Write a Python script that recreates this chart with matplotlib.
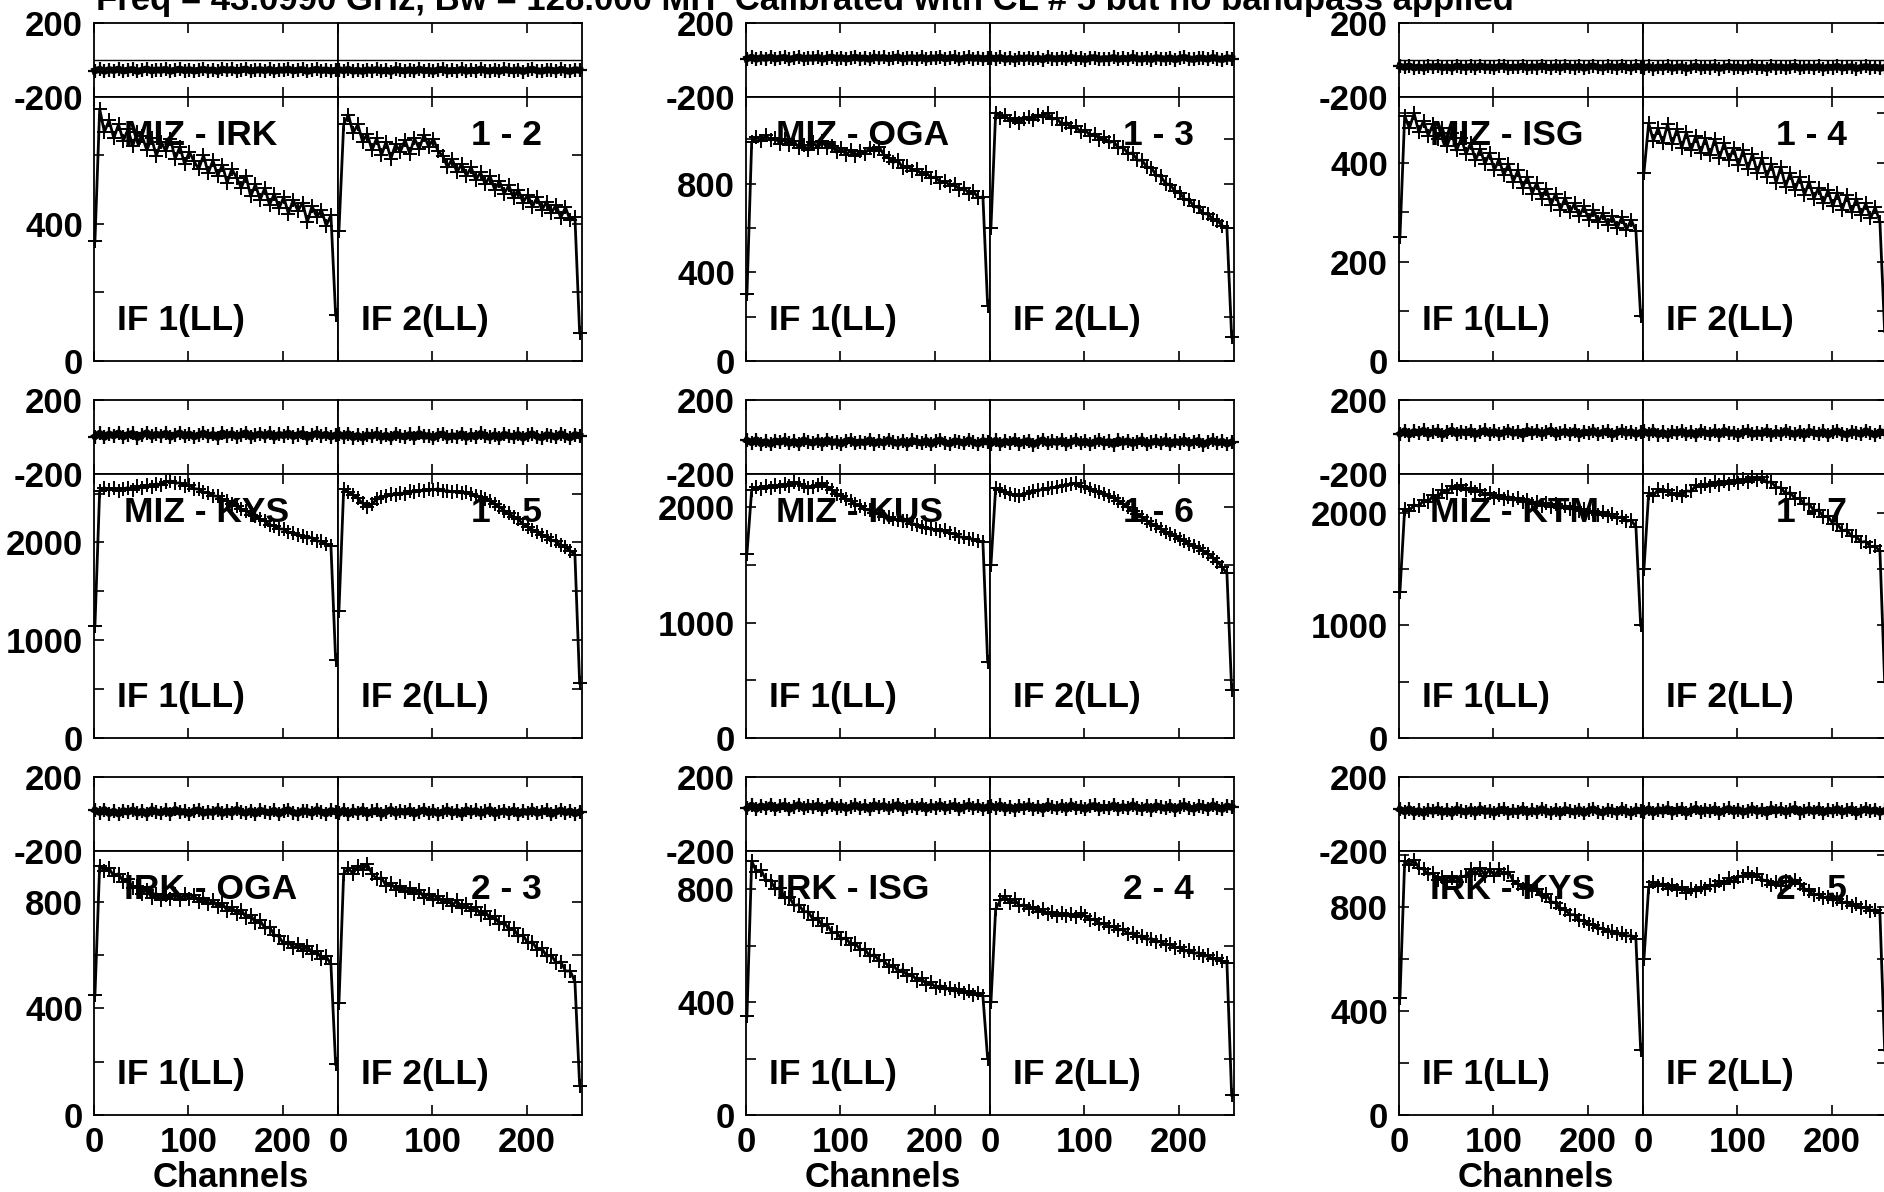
import matplotlib
matplotlib.use("Agg")
import matplotlib.pyplot as plt
from matplotlib.ticker import MultipleLocator

plt.rcParams['font.family'] = ['Liberation Sans', 'DejaVu Sans']
plt.rcParams['font.weight'] = 'bold'
plt.rcParams['axes.unicode_minus'] = False

W, H = 1884, 1192

title = "Freq = 43.0990 GHz, Bw = 128.000 MH  Calibrated with CL # 5 but no bandpass applied"

# every 5th channel of the 256-channel spectra
chan = list(range(1, 257, 5))

baselines = ["MIZ - IRK", "MIZ - OGA", "MIZ - ISG",
             "MIZ - KYS", "MIZ - KUS", "MIZ - KTM",
             "IRK - OGA", "IRK - ISG", "IRK - KYS"]
pairs = ["1 - 2", "1 - 3", "1 - 4", "1 - 5", "1 - 6", "1 - 7", "2 - 3", "2 - 4", "2 - 5"]
amp_top = [770, 1190, 533, 2700, 2290, 2345, 990, 935, 1015]
amp_major = [400, 400, 200, 1000, 1000, 1000, 400, 400, 400]
zero_line = ["MIZ - IRK", "MIZ - ISG"]

# amplitudes (IF1, IF2) per baseline
amp_miz_irk_1 = [350,735,668,702,650,690,642,676,628,668,
                 655,615,650,598,640,612,648,590,625,575,
                 610,582,560,600,548,585,540,572,520,560,
                 535,505,540,480,515,470,505,455,488,445,
                 478,430,470,438,462,405,452,420,440,395,
                 425,134]
amp_miz_irk_2 = [380,690,718,665,690,640,662,615,650,600,
                 640,590,632,610,645,605,650,618,660,625,
                 648,612,598,565,590,550,575,540,565,528,
                 550,515,540,500,525,488,512,475,500,462,
                 485,450,478,440,465,432,455,418,448,410,
                 420,82]
amp_miz_oga_1 = [300,985,1010,990,1018,995,1005,980,1000,975,
                 990,960,972,950,985,962,990,958,970,940,
                 958,930,950,925,948,935,962,945,965,930,
                 915,895,905,870,880,858,865,840,850,825,
                 830,802,812,790,800,770,782,755,765,735,
                 740,250]
amp_miz_oga_2 = [600,1120,1095,1110,1080,1095,1075,1090,1100,1085,
                 1110,1098,1118,1090,1095,1065,1075,1050,1058,1030,
                 1042,1015,1025,998,1008,985,990,960,965,935,
                 938,905,905,875,870,838,832,800,795,765,
                 758,730,725,698,692,665,662,640,632,610,
                 598,108]
amp_miz_isg_1 = [250,495,470,500,462,485,455,478,448,470,
                 435,460,425,450,418,440,405,428,398,420,
                 385,408,375,398,362,385,350,372,338,360,
                 328,348,315,338,305,330,300,318,292,312,
                 285,305,280,298,275,292,268,290,265,285,
                 262,90]
amp_miz_isg_2 = [380,480,445,470,440,478,438,468,430,462,
                 425,455,420,450,415,448,410,440,405,430,
                 395,425,388,418,380,410,372,398,360,392,
                 352,380,345,372,335,362,328,350,318,345,
                 312,340,305,335,300,328,295,318,288,310,
                 280,60]
amp_miz_kys_1 = [1150,2530,2560,2535,2555,2530,2548,2560,2540,2575,
                 2560,2585,2570,2600,2585,2615,2630,2605,2610,2580,
                 2585,2550,2545,2515,2510,2480,2470,2440,2425,2390,
                 2370,2340,2325,2285,2270,2235,2220,2180,2170,2140,
                 2135,2105,2100,2075,2070,2045,2050,2015,2010,1985,
                 1965,800]
amp_miz_kys_2 = [1300,2545,2515,2490,2450,2400,2360,2395,2440,2460,
                 2470,2495,2485,2505,2500,2525,2515,2535,2525,2545,
                 2535,2550,2525,2530,2515,2525,2505,2515,2495,2480,
                 2465,2440,2425,2390,2365,2325,2300,2260,2235,2190,
                 2160,2130,2110,2080,2060,2025,2010,1975,1950,1915,
                 1875,560]
amp_miz_kus_1 = [1600,2150,2175,2160,2185,2170,2195,2180,2205,2190,
                 2220,2200,2190,2170,2175,2195,2210,2180,2150,2120,
                 2100,2075,2060,2030,2015,1985,1975,1950,1940,1920,
                 1915,1900,1895,1880,1885,1860,1850,1830,1825,1810,
                 1810,1795,1800,1775,1770,1745,1740,1730,1725,1710,
                 1700,660]
amp_miz_kus_2 = [1500,2170,2150,2135,2120,2110,2100,2115,2125,2140,
                 2150,2155,2165,2170,2175,2185,2195,2205,2210,2190,
                 2175,2160,2145,2130,2115,2100,2085,2060,2030,2000,
                 1970,1945,1915,1885,1860,1835,1815,1790,1770,1750,
                 1730,1710,1685,1665,1645,1620,1600,1565,1530,1480,
                 1430,420]
amp_miz_ktm_1 = [1300,2035,2020,2070,2060,2110,2095,2155,2130,2200,
                 2180,2235,2215,2245,2200,2225,2185,2200,2155,2175,
                 2135,2155,2120,2145,2110,2130,2095,2115,2080,2100,
                 2065,2090,2055,2075,2040,2065,2030,2050,2015,2035,
                 2000,2020,1985,2010,1970,1990,1950,1965,1925,1935,
                 1875,1000]
amp_miz_ktm_2 = [1500,2175,2150,2210,2185,2200,2160,2175,2150,2195,
                 2190,2245,2230,2260,2235,2270,2245,2280,2255,2290,
                 2265,2300,2275,2315,2290,2320,2270,2275,2225,2225,
                 2170,2180,2125,2130,2075,2080,2020,2025,1965,1970,
                 1905,1900,1840,1850,1790,1790,1740,1745,1700,1705,
                 1660,500]
amp_irk_oga_1 = [450,935,915,925,895,905,875,885,850,860,
                 830,845,815,830,805,825,810,830,805,828,
                 810,825,800,815,790,805,780,795,765,780,
                 755,770,740,750,720,730,700,705,675,670,
                 640,650,625,640,615,635,605,615,585,595,
                 565,190]
amp_irk_oga_2 = [420,905,925,905,935,920,940,905,885,890,
                 860,870,845,860,835,850,830,845,815,830,
                 805,820,795,810,785,805,775,790,765,780,
                 750,765,735,745,715,725,695,700,670,675,
                 645,650,620,625,595,600,570,575,540,540,
                 500,110]
amp_irk_isg_1 = [350,900,862,868,832,830,800,805,768,772,
                 742,745,720,720,692,698,668,675,645,648,
                 622,628,602,608,585,588,562,568,545,548,
                 525,532,508,515,492,498,475,485,462,470,
                 450,458,445,450,438,445,432,438,425,432,
                 420,200]
amp_irk_isg_2 = [400,730,760,775,750,765,740,745,730,735,
                 720,728,712,720,705,715,705,712,700,715,
                 705,690,695,675,680,665,668,655,658,642,
                 645,632,635,622,625,612,615,602,605,592,
                 595,580,585,572,575,562,565,552,555,545,
                 540,70]
amp_irk_kys_1 = [450,975,960,980,950,945,925,930,905,915,
                 895,910,895,915,920,945,925,950,920,945,
                 920,945,925,935,900,890,870,885,860,870,
                 845,850,820,815,795,790,770,770,750,745,
                 735,730,720,715,705,708,695,700,688,690,
                 675,250]
amp_irk_kys_2 = [600,875,895,880,890,870,885,865,875,855,
                 870,860,875,870,885,880,900,890,910,895,
                 915,920,930,915,925,905,900,885,895,880,
                 900,895,905,890,870,860,845,850,835,840,
                 825,830,815,820,805,810,795,800,785,790,
                 775,250]

# phases in degrees (IF1, IF2)
ph_miz_irk_1 = [-58,-50,-61,-52,-57,-49,-60,-54,-51,-62,-55,-48,-59,-53,-56,-50,-61,-54,-49,-58,
                -52,-60,-55,-50,-57,-53,-62,-49,-56,-51,-59,-54,-48,-60,-55,-52,-58,-50,-61,-53,
                -56,-49,-59,-54,-51,-62,-55,-50,-57,-53,-60,-55]
ph_miz_irk_2 = [-52,-58,-50,-61,-55,-62,-53,-57,-51,-60,-54,-63,-50,-56,-59,-52,-61,-49,-58,-55,
                -62,-53,-51,-60,-56,-58,-50,-61,-54,-59,-49,-57,-60,-53,-62,-51,-56,-59,-52,-63,
                -54,-50,-58,-61,-53,-55,-60,-50,-57,-62,-52,-56]
ph_miz_oga_1 = [7,15,4,13,8,16,5,11,14,3,10,17,6,12,9,15,4,11,16,7,
                13,5,10,15,8,12,3,16,9,14,6,11,17,5,10,13,7,15,4,12,
                9,16,6,11,14,3,10,15,8,12,5,10]
ph_miz_oga_2 = [12,6,14,3,9,2,11,7,13,4,10,1,14,8,5,12,3,15,6,9,
                2,11,13,4,8,6,14,3,10,5,15,7,4,11,2,13,8,5,12,1,
                10,14,6,3,11,9,4,14,7,2,12,8]
ph_miz_isg_1 = [-34,-40,-32,-43,-37,-44,-35,-39,-33,-42,-36,-45,-32,-38,-41,-34,-43,-31,-40,-37,
                -44,-35,-33,-42,-38,-40,-32,-43,-36,-41,-31,-39,-42,-35,-44,-33,-38,-41,-34,-45,
                -36,-32,-40,-43,-35,-37,-42,-32,-39,-44,-34,-38]
ph_miz_isg_2 = [-43,-35,-46,-37,-42,-34,-45,-39,-36,-47,-40,-33,-44,-38,-41,-35,-46,-39,-34,-43,
                -37,-45,-40,-35,-42,-38,-47,-34,-41,-36,-44,-39,-33,-45,-40,-37,-43,-35,-46,-38,
                -41,-34,-44,-39,-36,-47,-40,-35,-42,-38,-45,-40]
ph_miz_kys_1 = [2,20,-2,16,6,22,0,13,19,-3,11,23,3,15,8,20,-1,12,22,4,
                16,1,10,21,5,14,-3,22,8,18,2,13,23,0,9,17,4,20,-2,14,
                7,21,2,12,19,-3,10,20,6,15,0,11]
ph_miz_kys_2 = [15,2,18,-4,9,-6,12,4,16,-2,10,-7,17,6,0,14,-4,19,3,8,
                -5,12,16,-2,7,2,18,-3,10,0,19,4,-2,12,-6,15,6,0,14,-7,
                10,17,2,-4,12,8,-2,18,4,-5,13,6]
ph_miz_kus_1 = [-18,-31,-15,-37,-24,-39,-21,-29,-17,-35,-23,-40,-16,-27,-33,-19,-37,-14,-30,-25,
                -38,-21,-17,-35,-26,-31,-15,-36,-23,-33,-14,-29,-35,-21,-39,-18,-27,-33,-19,-40,
                -23,-16,-31,-37,-21,-25,-35,-15,-29,-38,-20,-27]
ph_miz_kus_2 = [-36,-18,-40,-22,-32,-16,-38,-25,-19,-41,-27,-15,-35,-23,-30,-18,-39,-26,-16,-34,
                -22,-37,-28,-17,-33,-24,-41,-16,-30,-20,-36,-25,-15,-38,-29,-21,-34,-18,-40,-24,
                -31,-17,-36,-26,-19,-41,-28,-18,-32,-23,-38,-27]
ph_miz_ktm_1 = [16,34,12,30,20,36,14,27,33,11,25,37,17,29,22,34,13,26,36,18,
                30,15,24,35,19,28,11,36,22,32,16,27,37,14,23,31,18,34,12,28,
                21,35,16,26,33,11,24,34,20,29,14,25]
ph_miz_ktm_2 = [31,18,34,12,25,10,28,20,32,14,26,9,33,22,16,30,12,35,19,24,
                11,28,32,14,23,18,34,13,26,16,35,20,14,28,10,31,22,16,30,9,
                26,33,18,12,28,24,14,34,20,11,29,22]
ph_irk_oga_1 = [21,8,24,2,15,0,18,10,22,4,16,-1,23,12,6,20,2,25,9,14,
                1,18,22,4,13,8,24,3,16,6,25,10,4,18,0,21,12,6,20,-1,
                16,23,8,2,18,14,4,24,10,1,19,12]
ph_irk_oga_2 = [3,21,-1,17,7,23,1,14,20,-2,12,24,4,16,9,21,0,13,23,5,
                17,2,11,22,6,15,-2,23,9,19,3,14,24,1,10,18,5,21,-1,15,
                8,22,3,13,20,-2,11,21,7,16,1,12]
ph_irk_isg_1 = [30,48,26,44,34,50,28,41,47,25,39,51,31,43,36,48,27,40,50,32,
                44,29,38,49,33,42,25,50,36,46,30,41,51,28,37,45,32,48,26,42,
                35,49,30,40,47,25,38,48,34,43,28,39]
ph_irk_isg_2 = [45,32,48,26,39,24,42,34,46,28,40,23,47,36,30,44,26,49,33,38,
                25,42,46,28,37,32,48,27,40,30,49,34,28,42,24,45,36,30,44,23,
                40,47,32,26,42,38,28,48,34,25,43,36]
ph_irk_kys_1 = [25,12,28,6,19,4,22,14,26,8,20,3,27,16,10,24,6,29,13,18,
                5,22,26,8,17,12,28,7,20,10,29,14,8,22,4,25,16,10,24,3,
                20,27,12,6,22,18,8,28,14,5,23,16]
ph_irk_kys_2 = [10,28,6,24,14,30,8,21,27,5,19,31,11,23,16,28,7,20,30,12,
                24,9,18,29,13,22,5,30,16,26,10,21,31,8,17,25,12,28,6,22,
                15,29,10,20,27,5,18,28,14,23,8,19]

amps = [(amp_miz_irk_1, amp_miz_irk_2), (amp_miz_oga_1, amp_miz_oga_2), (amp_miz_isg_1, amp_miz_isg_2),
        (amp_miz_kys_1, amp_miz_kys_2), (amp_miz_kus_1, amp_miz_kus_2), (amp_miz_ktm_1, amp_miz_ktm_2),
        (amp_irk_oga_1, amp_irk_oga_2), (amp_irk_isg_1, amp_irk_isg_2), (amp_irk_kys_1, amp_irk_kys_2)]
phases = [(ph_miz_irk_1, ph_miz_irk_2), (ph_miz_oga_1, ph_miz_oga_2), (ph_miz_isg_1, ph_miz_isg_2),
          (ph_miz_kys_1, ph_miz_kys_2), (ph_miz_kus_1, ph_miz_kus_2), (ph_miz_ktm_1, ph_miz_ktm_2),
          (ph_irk_oga_1, ph_irk_oga_2), (ph_irk_isg_1, ph_irk_isg_2), (ph_irk_kys_1, ph_irk_kys_2)]

# layout in pixels
col_left = [94, 746, 1399]
row_top = [23, 400, 777]
half_w, ph_h, am_h = 244, 74, 264
fs = 25       # tick labels
fs_in = 25.5  # texts inside the panels

fig = plt.figure(figsize=(W / 100, H / 100), dpi=100)


def add_ax(x, y, w, h):
    return fig.add_axes([x / W, 1 - (y + h) / H, w / W, h / H])


def style(ax, i, labelbottom=False):
    ax.set_xlim(0, 258.5)
    ax.set_xticks([0, 100, 200])
    ax.tick_params(which='both', direction='in', length=7, width=1.2,
                   top=True, bottom=True, left=(i == 0), right=(i == 1),
                   labelleft=(i == 0), labelright=False, labelbottom=labelbottom,
                   labelsize=fs, pad=8)
    ax.tick_params(axis='x', pad=8)
    for s in ax.spines.values():
        s.set_linewidth(1.3)


for b in range(9):
    r, c = divmod(b, 3)
    for i in range(2):
        x0 = col_left[c] + i * half_w
        axp = add_ax(x0, row_top[r], half_w, ph_h)
        axa = add_ax(x0, row_top[r] + ph_h, half_w, am_h)
        style(axp, i)
        style(axa, i, labelbottom=(r == 2))

        ph = phases[b][i]
        axp.plot(chan[:len(ph)], ph, '-', color='k', lw=5, marker='+', ms=10, mew=1.6, clip_on=False)
        if baselines[b] in zero_line:
            axp.axhline(0, color='k', lw=1.0)
        axp.set_ylim(-200, 200)
        axp.set_yticks([-200, 200])

        am = amps[b][i]
        axa.plot(chan[:len(am)], am, '-', color='k', lw=2.0, marker='+', ms=10, mew=1.4, clip_on=False, zorder=3)
        axa.set_ylim(0, amp_top[b])
        axa.yaxis.set_major_locator(MultipleLocator(amp_major[b]))
        axa.yaxis.set_minor_locator(MultipleLocator(amp_major[b] / 2))

        axa.text(0.094, 0.155, f"IF {i + 1}(LL)", transform=axa.transAxes, fontsize=fs_in,
                 ha='left', va='center', zorder=1)
        if i == 0:
            axa.text(0.125, 0.856, baselines[b], transform=axa.transAxes, fontsize=fs_in,
                     ha='left', va='center', zorder=1)
            if r == 2:
                axa.text(0.561, -0.235, "Channels", transform=axa.transAxes, fontsize=fs,
                         ha='center', va='center')
        else:
            axa.text(0.836, 0.856, pairs[b], transform=axa.transAxes, fontsize=fs_in,
                     ha='right', va='center', zorder=1)

fig.text(96 / W, 1 - 10 / H, title, fontsize=fs, ha='left', va='baseline')

fig.savefig("out.png", dpi=100)
